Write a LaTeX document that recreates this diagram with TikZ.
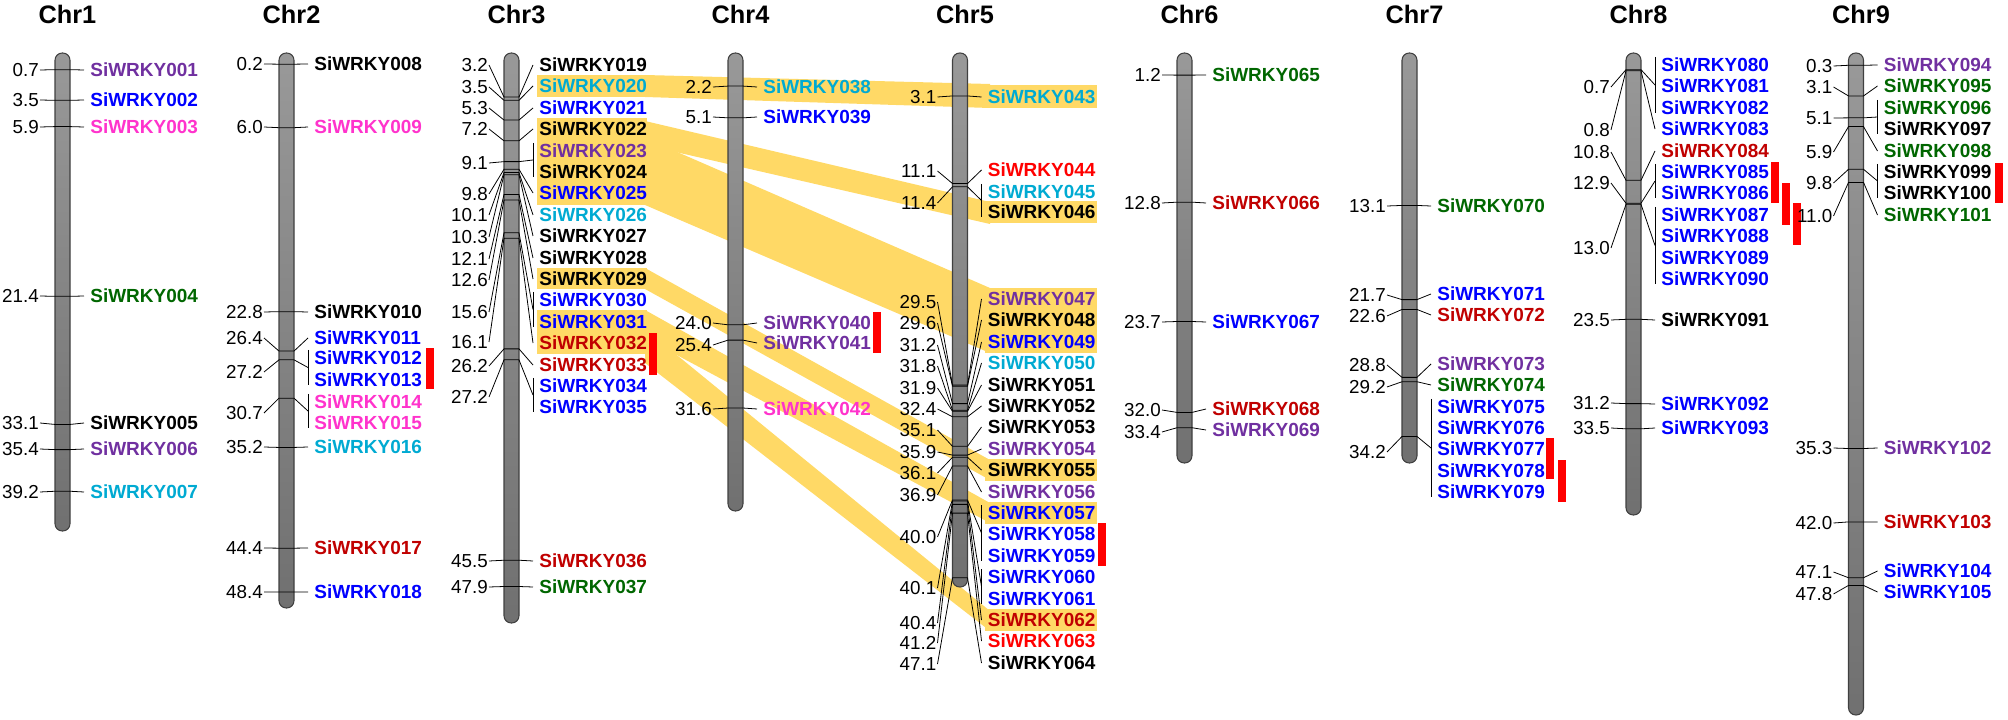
\documentclass[tikz,border=0pt]{standalone}
\usepackage{fontspec}
\setmainfont{Liberation Sans}
\usetikzlibrary{calc}

\definecolor{wpurple}{RGB}{112,48,160}
\definecolor{wblue}{RGB}{0,0,255}
\definecolor{wpink}{RGB}{255,51,204}
\definecolor{wgreen}{RGB}{0,102,0}
\definecolor{wcyan}{RGB}{0,170,210}
\definecolor{wdred}{RGB}{192,0,0}
\definecolor{wred}{RGB}{255,0,0}
\definecolor{hlyellow}{RGB}{255,217,102}

\begin{document}
\begin{tikzpicture}[x=0.2mm, y=-0.2mm,
    chrom/.style={draw=black!75, line width=0.6pt, top color=black!40, bottom color=black!56, rounded corners=1.45mm},
    num/.style={anchor=east, inner sep=0.5pt, font=\fontsize{10.7}{12}\selectfont},
    gene/.style={anchor=west, inner xsep=1.2mm, inner ysep=0pt, font=\fontsize{10.8}{12}\selectfont\bfseries},
    title/.style={anchor=base, font=\fontsize{14.4}{16}\selectfont\bfseries},
    conn/.style={line width=0.45pt},
    hl/.style={fill=hlyellow},
    dup/.style={fill=wred}]
    \useasboundingbox (0,0) rectangle (2008,720);

    \foreach \a/\b/\c/\d in {75/84/108/97, 121/202/224/145, 138/288/353/205,
                             268/460/480/289, 310/503/523/338, 329/611/631/363} {
      \fill[hl] (645,\a) -- (990,\b) -- (990,\c) -- (645,\d) -- cycle;
    }
    \foreach \a/\b in {75/97, 118/205, 268/289, 310/354} {
      \fill[hl] (537,\a) rectangle (647,\b);
    }
    \foreach \a/\b in {85/108, 201/223, 288/353, 459/481, 502/524, 609/631} {
      \fill[hl] (985,\a) rectangle (1097,\b);
    }

    \foreach \cx/\bot/\i in {62.5/531/1, 286.5/608/2, 511.5/623/3, 735.5/511/4, 960/587/5,
                             1184.5/463/6, 1409.5/463/7, 1633.5/515/8, 1856/715/9} {
      \draw[chrom] (\cx-7.5,53) rectangle (\cx+7.5,\bot);
      \node[title] (chr\i) at (\cx+5,23.5) {Chr\i};
    }

    \foreach \xa/\ya/\yb in {426/348/389, 649/333/375, 873/312/353, 1098/523/566,
                             1546/438/479, 1558/460/502, 1771/162/203, 1782/183/225,
                             1793/203/245, 1995/163/203} {
      \fill[dup] (\xa,\ya) rectangle (\xa+8,\yb);
    }

    \foreach \cx/\mb/\ny/\gy/\g/\c in {
      62.5/0.7/70/70/001/wpurple, 62.5/3.5/100/100/002/wblue, 62.5/5.9/127/127/003/wpink,
      62.5/21.4/296/296/004/wgreen, 62.5/33.1/423/423/005/black, 62.5/35.4/449/449/006/wpurple,
      62.5/39.2/492/492/007/wcyan,
      286.5/0.2/64/64/008/black, 286.5/6.0/127/127/009/wpink, 286.5/22.8/312/312/010/black,
      286.5/26.4/338/338/011/wblue, 286.5/35.2/447/447/016/wcyan, 286.5/44.4/548/548/017/wdred,
      286.5/48.4/592/592/018/wblue,
      511.5/3.2/65/65/019/black, 511.5/3.5/87/86/020/wcyan, 511.5/5.3/108/108/021/wblue,
      511.5/7.2/129/129/022/black, 511.5/9.8/194/193/025/wblue, 511.5/10.1/215/215/026/wcyan,
      511.5/10.3/237/236/027/black, 511.5/12.1/259/258/028/black, 511.5/12.6/280/279/029/black,
      511.5/16.1/342/343/032/wdred, 511.5/26.2/366/365/033/wdred, 511.5/45.5/561/561/036/wdred,
      511.5/47.9/587/587/037/wgreen,
      735.5/2.2/87/87/038/wcyan, 735.5/5.1/117/117/039/wblue, 735.5/24.0/323/323/040/wpurple,
      735.5/25.4/345/343/041/wpurple, 735.5/31.6/409/409/042/wpink,
      960/3.1/97/97/043/wcyan, 960/11.1/171/170/044/wred, 960/29.5/302/299/047/wpurple,
      960/29.6/323/320/048/black, 960/31.2/345/342/049/wblue, 960/31.8/366/363/050/wcyan,
      960/31.9/388/385/051/black, 960/32.4/409/406/052/black, 960/35.1/430/427/053/black,
      960/35.9/452/449/054/wpurple, 960/36.1/473/470/055/black, 960/36.9/495/492/056/wpurple,
      960/40.4/623/620/062/wdred, 960/41.2/643/641/063/wred, 960/47.1/664/663/064/black,
      1184.5/1.2/75/75/065/wgreen, 1184.5/12.8/203/203/066/wdred, 1184.5/23.7/322/322/067/wblue,
      1184.5/32.0/410/409/068/wdred, 1184.5/33.4/432/430/069/wpurple,
      1409.5/13.1/206/206/070/wgreen, 1409.5/21.7/295/294/071/wblue, 1409.5/22.6/316/315/072/wdred,
      1409.5/28.8/365/364/073/wpurple, 1409.5/29.2/387/385/074/wgreen,
      1633.5/0.8/130/129/083/wblue, 1633.5/10.8/152/151/084/wdred, 1633.5/23.5/320/320/091/black,
      1633.5/31.2/403/404/092/wblue, 1633.5/33.5/428/428/093/wblue,
      1856/0.3/66/65/094/wpurple, 1856/3.1/87/86/095/wgreen, 1856/5.9/152/151/098/wgreen,
      1856/11.0/216/215/101/wgreen, 1856/35.3/448/448/102/wpurple, 1856/42.0/523/522/103/wdred,
      1856/47.1/572/571/104/wblue, 1856/47.8/594/592/105/wblue} {
      \node[num] (n\g) at (\cx-22.5,\ny) {\mb};
      \node[gene, text=\c] (g\g) at (\cx+21.5,\gy) {SiWRKY\g};
      \draw[conn] (n\g.east) -- (\cx-7.5,62+10.95*\mb) -- (\cx+7.5,62+10.95*\mb) -- (g\g.west);
    }

    \foreach \cx/\gy/\g/\c in {
      286.5/358/012/wblue, 286.5/380/013/wblue, 286.5/402/014/wpink, 286.5/423/015/wpink,
      511.5/151/023/wpurple, 511.5/172/024/black, 511.5/300/030/wblue, 511.5/322/031/wblue,
      511.5/386/034/wblue, 511.5/407/035/wblue,
      960/192/045/wcyan, 960/212/046/black, 960/513/057/wblue, 960/534/058/wblue,
      960/556/059/wblue, 960/577/060/wblue, 960/599/061/wblue,
      1409.5/407/075/wblue, 1409.5/428/076/wblue, 1409.5/449/077/wblue, 1409.5/471/078/wblue,
      1409.5/492/079/wblue,
      1633.5/65/080/wblue, 1633.5/86/081/wblue, 1633.5/108/082/wblue, 1633.5/172/085/wblue,
      1633.5/193/086/wblue, 1633.5/215/087/wblue, 1633.5/236/088/wblue, 1633.5/258/089/wblue,
      1633.5/279/090/wblue,
      1856/108/096/wgreen, 1856/129/097/black, 1856/172/099/black, 1856/193/100/black} {
      \node[gene, text=\c] (g\g) at (\cx+21.5,\gy) {SiWRKY\g};
    }

    \foreach \cx/\mb/\ny/\ga/\gb in {
      286.5/27.2/372/012/013, 286.5/30.7/413/014/015,
      511.5/9.1/163/023/024, 511.5/15.6/312/030/031, 511.5/27.2/397/034/035,
      960/11.4/203/045/046, 960/40.0/537/057/059, 960/40.1/588/060/061,
      1409.5/34.2/452/075/079,
      1633.5/0.7/87/080/082, 1633.5/12.9/183/085/086, 1633.5/13.0/248/087/090,
      1856/5.1/118/096/097, 1856/9.8/183/099/100} {
      \node[num] (n\ga) at (\cx-22.5,\ny) {\mb};
      \draw[conn] ([yshift=1.6mm]g\ga.west) -- ([yshift=-1mm]g\gb.west);
      \draw[conn] (n\ga.east) -- (\cx-7.5,62+10.95*\mb) -- (\cx+7.5,62+10.95*\mb)
        -- ($(g\ga.west)!0.5!(g\gb.west)+(0,-1.5)$);
    }
\end{tikzpicture}
\end{document}
